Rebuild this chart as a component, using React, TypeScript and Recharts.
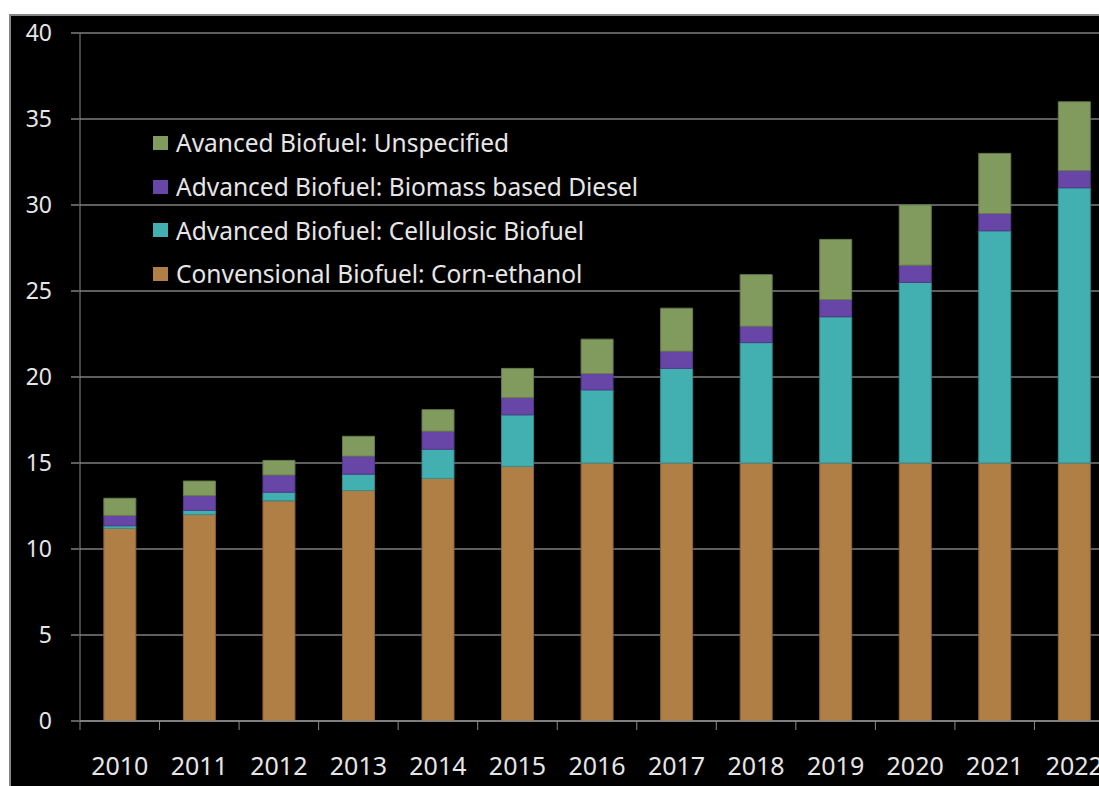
import React from 'react';
import { BarChart, Bar, XAxis, YAxis, CartesianGrid, Legend } from 'recharts';

const years = ['2010', '2011', '2012', '2013', '2014', '2015', '2016', '2017', '2018', '2019', '2020', '2021', '2022'];
const cornEthanol = [11.2, 12.0, 12.8, 13.4, 14.1, 14.8, 15.0, 15.0, 15.0, 15.0, 15.0, 15.0, 15.0];
const cellulosic = [0.15, 0.25, 0.5, 0.95, 1.7, 3.0, 4.25, 5.5, 7.0, 8.5, 10.5, 13.5, 16.0];
const biomassDiesel = [0.6, 0.85, 1.0, 1.05, 1.05, 1.0, 0.95, 1.0, 0.95, 1.0, 1.0, 1.0, 1.0];
const unspecified = [1.0, 0.85, 0.85, 1.15, 1.25, 1.7, 2.0, 2.5, 3.0, 3.5, 3.5, 3.5, 4.0];
const yTicks = [0, 5, 10, 15, 20, 25, 30, 35, 40];

// top-to-bottom order of the legend rows
const legendOrder = ['unspecified', 'diesel', 'cellulosic', 'corn'];

const data = years.map((year, i) => ({
  year,
  corn: cornEthanol[i],
  cellulosic: cellulosic[i],
  diesel: biomassDiesel[i],
  unspecified: unspecified[i],
}));

const FONT = '"Noto Sans", "Open Sans", sans-serif';
const TEXT = '#e6e6e6';
const PLOT_W = 1034;
const BAND = PLOT_W / years.length;

const YearTick = (props: any) => {
  const { x, y, payload } = props;
  return (
    <g>
      <line x1={x - BAND / 2} x2={x - BAND / 2} y1={y} y2={y + 9} stroke="#8a8a8a" strokeWidth={1} />
      <text x={x} y={y + 45} dy="0.355em" textAnchor="middle" fill={TEXT} fontSize={25} fontFamily={FONT}>
        {payload.value}
      </text>
    </g>
  );
};

const LegendBox = (props: any) => {
  const items = [...(props.payload || [])].sort(
    (a: any, b: any) => legendOrder.indexOf(a.dataKey) - legendOrder.indexOf(b.dataKey)
  );
  return (
    <div style={{ fontFamily: FONT }}>
      {items.map((item: any) => (
        <div key={item.value} style={{ display: 'flex', alignItems: 'center', height: 43.7 }}>
          <span style={{ width: 15, height: 14, background: item.color, marginRight: 8, display: 'inline-block' }} />
          <span style={{ color: TEXT, fontSize: 24.5, whiteSpace: 'nowrap' }}>{item.value}</span>
        </div>
      ))}
    </div>
  );
};

export default function App() {
  return (
    <div style={{ position: 'absolute', left: 0, top: 0, width: 1099, height: 786, overflow: 'hidden', background: '#fff' }}>
      <div
        style={{
          position: 'absolute',
          left: 9,
          top: 14,
          width: 1200,
          height: 820,
          background: '#000',
          border: '2px solid #858585',
        }}
      >
        <BarChart
          width={69 + PLOT_W + 10}
          height={765}
          data={data}
          margin={{ top: 17, right: 10, bottom: 0, left: 0 }}
          barCategoryGap="30%"
        >
          <CartesianGrid vertical={false} stroke="#5e5e5e" strokeWidth={2} />
          <XAxis
            dataKey="year"
            height={60}
            tickLine={false}
            tickSize={0}
            tickMargin={0}
            axisLine={{ stroke: '#8a8a8a', strokeWidth: 1.5 }}
            tick={<YearTick />}
            interval={0}
          />
          <YAxis
            width={69}
            domain={[0, 40]}
            ticks={yTicks}
            tickSize={9}
            tickMargin={19}
            axisLine={{ stroke: '#8a8a8a', strokeWidth: 1 }}
            tickLine={{ stroke: '#5e5e5e', strokeWidth: 2 }}
            tick={{ fill: TEXT, fontSize: 23, fontFamily: FONT }}
          />
          <Legend
            layout="vertical"
            align="center"
            verticalAlign="middle"
            content={<LegendBox />}
            wrapperStyle={{ left: 142, top: 105, width: 'auto' }}
          />
          <Bar dataKey="corn" stackId="a" name="Convensional Biofuel: Corn-ethanol" fill="#B07F45" stroke="#8c6538" strokeWidth={1} isAnimationActive={false} />
          <Bar dataKey="cellulosic" stackId="a" name="Advanced Biofuel: Cellulosic Biofuel" fill="#42AFB1" stroke="#358d8f" strokeWidth={1} isAnimationActive={false} />
          <Bar dataKey="diesel" stackId="a" name="Advanced Biofuel: Biomass based Diesel" fill="#6846A8" stroke="#533887" strokeWidth={1} isAnimationActive={false} />
          <Bar dataKey="unspecified" stackId="a" name="Avanced Biofuel: Unspecified" fill="#819B5E" stroke="#677c4b" strokeWidth={1} isAnimationActive={false} />
        </BarChart>
      </div>
    </div>
  );
}
